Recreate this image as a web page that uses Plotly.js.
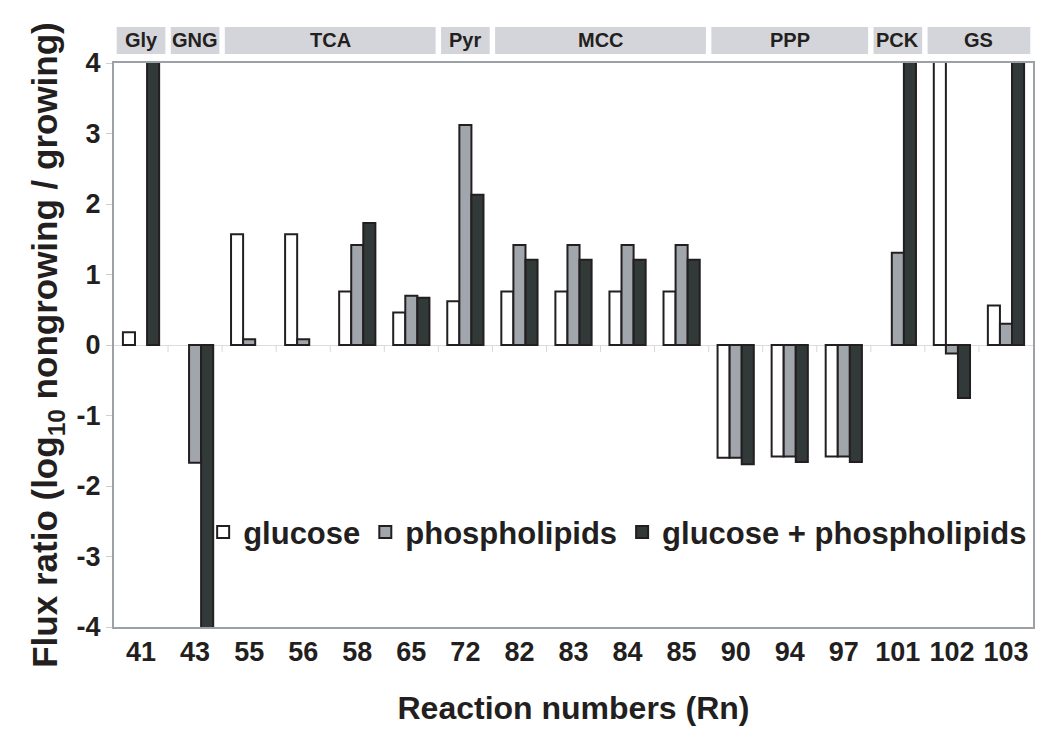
<!DOCTYPE html>
<html>
<head>
<meta charset="utf-8">
<script src="https://cdn.plot.ly/plotly-3.0.1.min.js"></script>
<style>
  html, body { margin: 0; padding: 0; background: #fff; }
  #plot { width: 1050px; height: 755px; }
</style>
</head>
<body>
<div id="plot"></div>
<script>
// reaction numbers on the x axis
const reactions = ['41', '43', '55', '56', '58', '65', '72', '82', '83', '84', '85', '90', '94', '97', '101', '102', '103'];

// log10 flux ratio, nongrowing / growing (null = no bar; bars above 4 run off the top of the axis)
const glucose      = [0.18, null, 1.57, 1.57, 0.76, 0.46, 0.62, 0.76, 0.76, 0.76, 0.76, -1.60, -1.58, -1.58, null, 4.6, 0.56];
const phospholipid = [null, -1.67, 0.08, 0.08, 1.42, 0.70, 3.12, 1.42, 1.42, 1.42, 1.42, -1.60, -1.58, -1.58, 1.31, -0.12, 0.30];
const combined     = [4.6, -4.08, null, null, 1.73, 0.67, 2.13, 1.21, 1.21, 1.21, 1.21, -1.69, -1.66, -1.66, 4.6, -0.75, 4.6];

// y tick labels, written with a plain hyphen as in the original
const yTickVals = [-4, -3, -2, -1, 0, 1, 2, 3, 4];
const yTickText = ['-4', '-3', '-2', '-1', '0', '1', '2', '3', '4'];

// pathway bands above the plot: label, first and last category index
const pathwayNames = ['Gly', 'GNG', 'TCA', 'Pyr', 'MCC', 'PPP', 'PCK', 'GS'];
const pathwayFirst = [0, 1, 2, 6, 7, 11, 14, 15];
const pathwayLast  = [0, 1, 5, 6, 10, 13, 14, 16];

const outline = { color: '#231f20', width: 2 };
const bold = (s) => '<b>' + s + '</b>';

const traces = [
  { name: bold('glucose'), y: glucose, marker: { color: '#ffffff', line: outline } },
  { name: bold('phospholipids'), y: phospholipid, marker: { color: '#a1a5ac', line: outline } },
  { name: bold('glucose + phospholipids'), y: combined, marker: { color: '#323939', line: outline } }
].map(t => Object.assign({ type: 'bar', x: reactions, hoverinfo: 'y' }, t));

const shapes = [];
const annotations = [];

pathwayNames.forEach((name, i) => {
  const x0 = pathwayFirst[i] - 0.5 + 0.05;
  const x1 = pathwayLast[i] + 0.5 - 0.05;
  shapes.push({
    type: 'rect', xref: 'x', yref: 'paper',
    x0: x0, x1: x1, y0: 1.016, y1: 1.064,
    fillcolor: '#d4d5da', line: { width: 0 }, layer: 'below'
  });
  annotations.push({
    xref: 'x', yref: 'paper', x: (x0 + x1) / 2, y: 1.04,
    text: bold(name), showarrow: false,
    font: { size: 20, color: '#231f20' }, yanchor: 'middle'
  });
});

// little tick marks on the zero line between categories
for (let i = 0; i < reactions.length - 1; i++) {
  shapes.push({
    type: 'line', xref: 'x', yref: 'y',
    x0: i + 0.5, x1: i + 0.5, y0: 0, y1: -0.1,
    line: { color: '#d8d8d8', width: 1 }, layer: 'below'
  });
}

const layout = {
  width: 1050,
  height: 755,
  margin: { l: 114, r: 17, t: 63, b: 128 },
  paper_bgcolor: '#ffffff',
  plot_bgcolor: '#ffffff',
  font: { family: 'Liberation Sans, Arial, sans-serif', color: '#231f20' },
  barmode: 'group',
  bargap: 0.33,
  bargroupgap: 0,
  showlegend: true,
  legend: {
    orientation: 'h',
    x: 0.097, y: 0.168,
    xanchor: 'left', yanchor: 'middle',
    font: { size: 31, color: '#231f20' },
    bgcolor: 'rgba(0,0,0,0)',
    itemwidth: 30,
    tracegroupgap: 0
  },
  xaxis: {
    type: 'category',
    tickfont: { size: 27, weight: 'bold' },
    ticks: '',
    showgrid: false,
    showline: true,
    linecolor: '#9ca1a6',
    linewidth: 2,
    mirror: true,
    title: { text: bold('Reaction numbers (Rn)'), font: { size: 32 }, standoff: 30 },
    fixedrange: true
  },
  yaxis: {
    range: [-4, 4],
    tickmode: 'array',
    tickvals: yTickVals,
    ticktext: yTickText,
    tickfont: { size: 27, weight: 'bold' },
    ticks: 'outside',
    ticklen: 6,
    tickcolor: '#cfcfcf',
    showgrid: false,
    zeroline: true,
    zerolinecolor: '#dcdcdc',
    zerolinewidth: 1,
    showline: true,
    linecolor: '#9ca1a6',
    linewidth: 2,
    mirror: true,
    title: { text: bold('Flux ratio (log<sub>10</sub> nongrowing / growing)'), font: { size: 35 }, standoff: 8 },
    fixedrange: true
  },
  shapes: shapes,
  annotations: annotations
};

Plotly.newPlot('plot', traces, layout, { displayModeBar: false, staticPlot: true });
</script>
</body>
</html>
